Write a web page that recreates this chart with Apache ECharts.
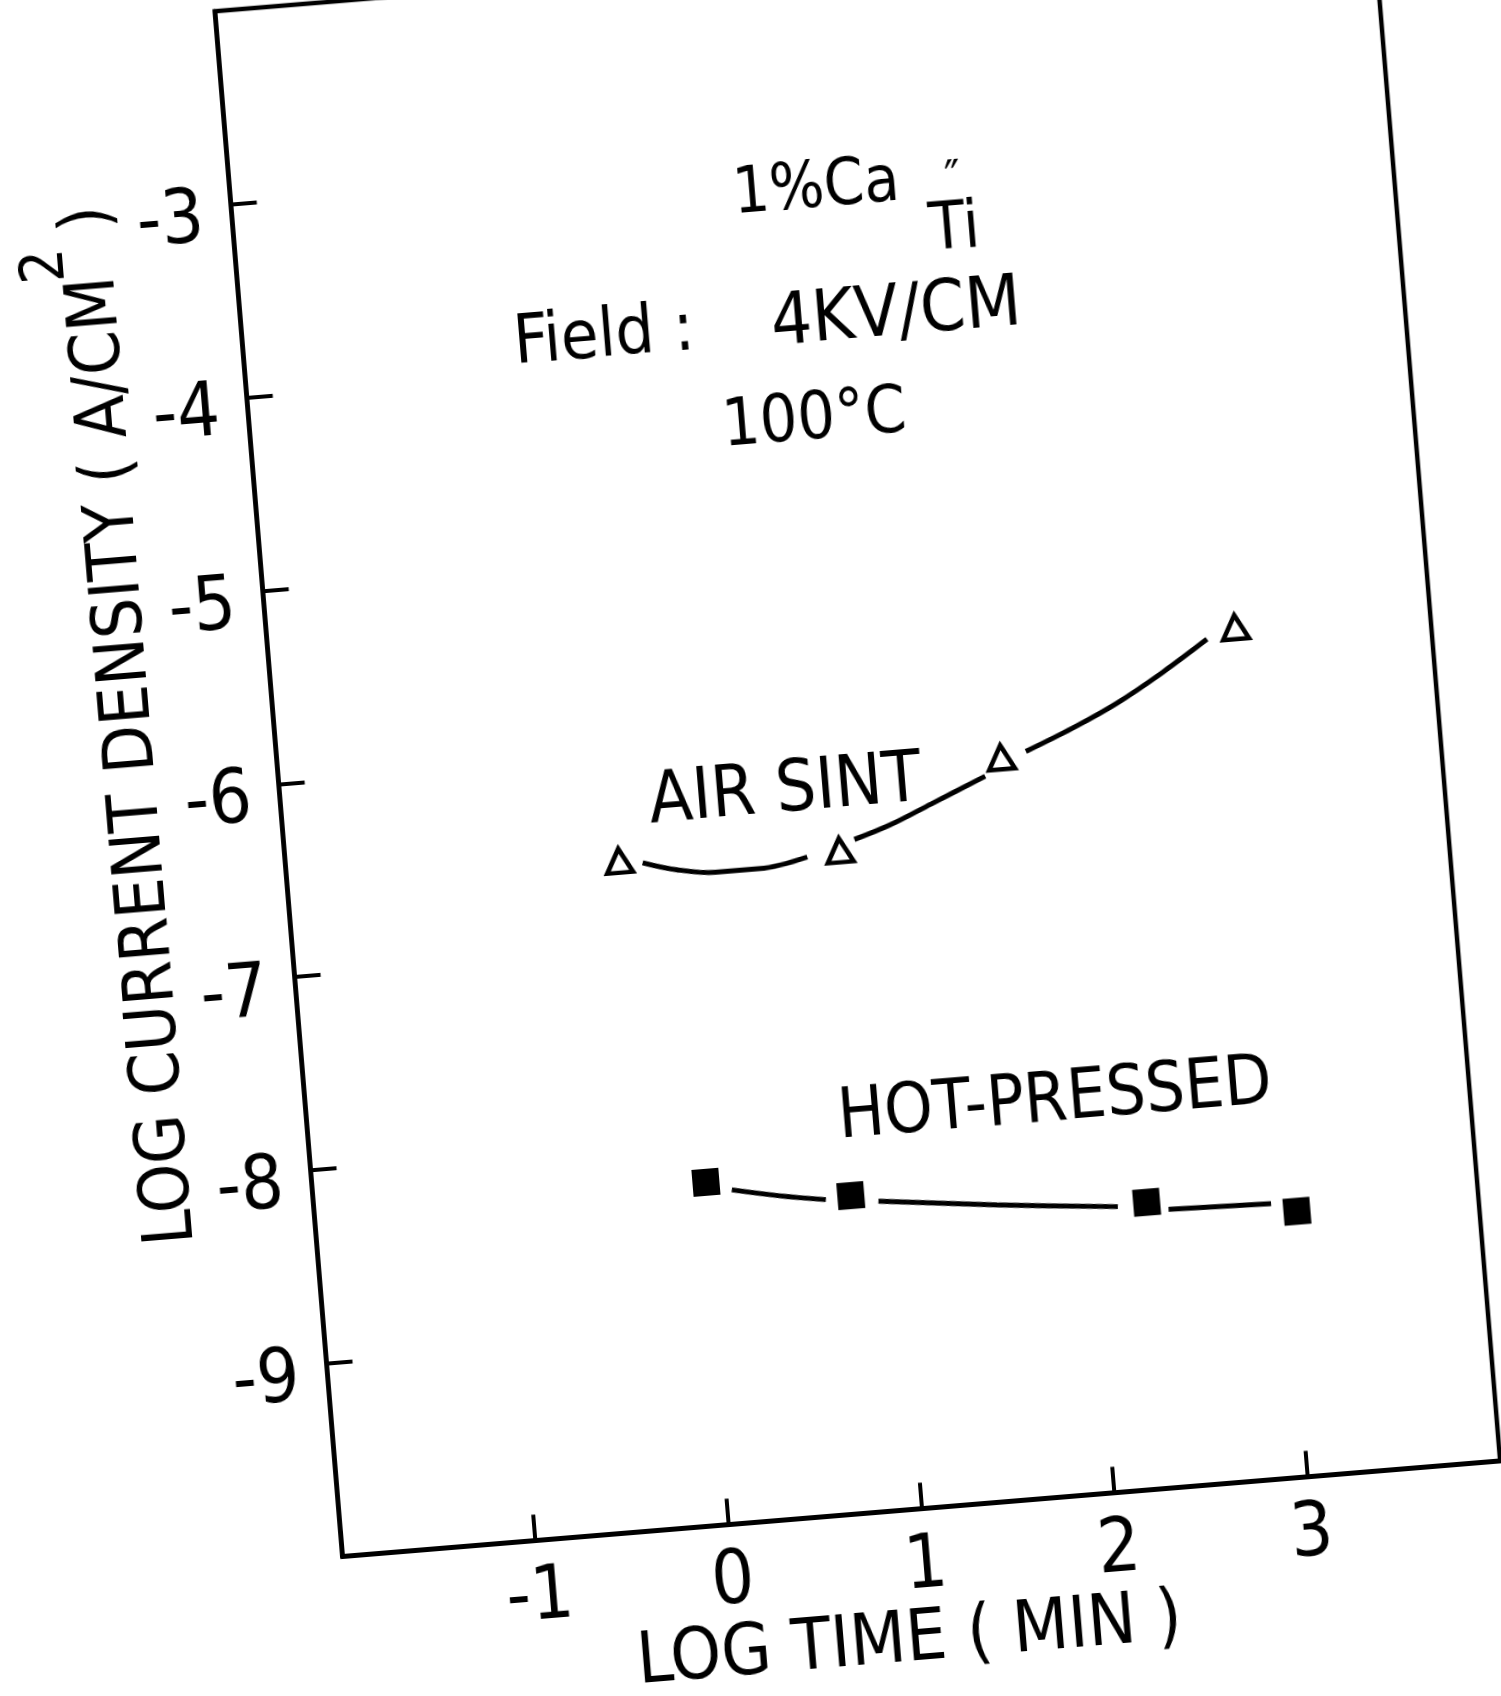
<!DOCTYPE html>
<html>
<head>
<meta charset="utf-8">
<script src="https://cdn.jsdelivr.net/npm/echarts@6/dist/echarts.min.js"></script>
<style>
html,body{margin:0;padding:0;background:#fff;overflow:hidden;width:1501px;height:1696px;}
#chart{position:absolute;left:0;top:0;width:1620px;height:1820px;transform-origin:342.5px 1556.5px;transform:rotate(-4.72deg);}
</style>
</head>
<body>
<div id="chart"></div>
<script>
// ---- data ----
const xTickLabels = ['-1', '0', '1', '2', '3'];
const yTickLabels = ['-9', '-8', '-7', '-6', '-5', '-4', '-3'];

const airSintX = [-0.28, 0.86, 1.73, 2.99];
const airSintY = [-6.54, -6.58, -6.17, -5.60];

const hotPressedX = [0.03, 0.77, 2.29, 3.06];
const hotPressedY = [-8.23, -8.36, -8.52, -8.63];

// hand-drawn fit curves (null = gap in the drawn line)
const airFitX = [-0.16, 0.01, 0.21, 0.44, 0.69, null, 0.94, 1.13, 1.35, 1.64, null, 1.86, 2.11, 2.35, 2.60, 2.84];
const airFitY = [-6.56, -6.61, -6.64, -6.64, -6.60, null, -6.53, -6.47, -6.38, -6.26, null, -6.15, -6.05, -5.94, -5.80, -5.65];

const hotFitX = [0.16, 0.40, 0.64, null, 0.91, 1.52, 2.14, null, 2.40, 2.93];
const hotFitY = [-8.28, -8.33, -8.37, null, -8.40, -8.47, -8.53, null, -8.565, -8.58];

// ---- chart ----
const FONT = '"DejaVu Sans Condensed", "Liberation Sans Narrow", "DejaVu Sans", sans-serif';
const NUMFONT = '"Liberation Sans Narrow", "DejaVu Sans Condensed", "DejaVu Sans", sans-serif';

function zip(xs, ys) { return xs.map((x, i) => [x, ys[i]]); }
function segments(xs, ys) {
  const out = []; let cur = [];
  xs.forEach((x, i) => {
    if (x === null) { if (cur.length) out.push(cur); cur = []; }
    else cur.push([x, ys[i]]);
  });
  if (cur.length) out.push(cur);
  return out;
}

const lineStyle = { color: '#000', width: 5, opacity: 1 };
const curveSeries = segments(airFitX, airFitY).concat(segments(hotFitX, hotFitY)).map(seg => ({
  type: 'line', data: seg, smooth: 0.35, symbol: 'none', lineStyle: lineStyle, z: 2, silent: true
}));

const chart = echarts.init(document.getElementById('chart'), null, { renderer: 'canvas' });
chart.setOption({
  animation: false,
  backgroundColor: 'transparent',
  grid: { left: 342.5, top: 6.1, width: 1161.6, height: 1550.4, show: true, borderColor: '#000', borderWidth: 4.5, backgroundColor: 'transparent' },
  xAxis: {
    type: 'value', min: -2, max: 4, interval: 1,
    axisLine: { show: true, onZero: false, lineStyle: { color: '#000', width: 5 } },
    axisTick: { show: true, inside: true, length: 26, lineStyle: { color: '#000', width: 4 } },
    axisLabel: { show: true, color: '#000', fontSize: 75, fontFamily: NUMFONT, margin: 22,
      formatter: v => xTickLabels.includes(String(v)) ? String(v) : '' },
    splitLine: { show: false }
  },
  yAxis: {
    type: 'value', min: -10, max: -2, interval: 1,
    axisLine: { show: true, onZero: false, lineStyle: { color: '#000', width: 4.5 } },
    axisTick: { show: true, inside: true, length: 26, lineStyle: { color: '#000', width: 4 } },
    axisLabel: { show: true, color: '#000', margin: 28,
      formatter: v => yTickLabels.includes(String(v)) ? '{t|' + String(v) + '}' : '',
      rich: { t: { fontSize: 75, fontFamily: NUMFONT, color: '#000', padding: [30, 0, 0, 0] } } },
    splitLine: { show: false }
  },
  series: curveSeries.concat([
    { name: 'AIR SINT', type: 'scatter', data: zip(airSintX, airSintY), symbol: 'triangle', symbolSize: [26, 24],
      itemStyle: { color: '#fff', borderColor: '#000', borderWidth: 4.5, opacity: 1 }, z: 3 },
    { name: 'HOT-PRESSED', type: 'scatter', data: zip(hotPressedX, hotPressedY), symbol: 'rect', symbolSize: [27, 27],
      itemStyle: { color: '#000', opacity: 1 }, z: 3 }
  ])
});

// ---- text annotations, placed in axis coordinates ----
const texts = [
  { text: '1%Ca', at: [1.020, -3.172], fs: 64 },
  { text: '\u2033', at: [1.727, -3.191], fs: 48 },
  { text: 'Ti', at: [1.714, -3.443], fs: 66 },
  { text: 'Field :', at: [-0.136, -3.847], fs: 68 },
  { text: '4KV/CM', at: [1.378, -3.851], fs: 72 },
  { text: '100\u00B0C', at: [0.912, -4.36], fs: 66 },
  { text: 'AIR SINT', at: [0.604, -6.259], fs: 71 },
  { text: 'HOT-PRESSED', at: [1.861, -7.963], fs: 69 },
  { text: 'LOG TIME ( MIN )', at: [0.883, -10.68], fs: 72 },
  { text: 'LOG CURRENT DENSITY ( A/CM', at: [-2.733, -5.82], fs: 70, rot: Math.PI / 2 },
  { text: '2', at: [-2.973, -3.238], fs: 60, rot: Math.PI / 2 },
  { text: ')', at: [-2.731, -3.01], fs: 70, rot: Math.PI / 2 }
];
chart.setOption({
  graphic: texts.map(t => {
    const p = chart.convertToPixel({ gridIndex: 0 }, t.at);
    return {
      type: 'text', x: p[0], y: p[1], rotation: t.rot || 0, z: 10, silent: true,
      style: { text: t.text, fill: '#000', fontSize: t.fs, fontFamily: FONT,
        align: 'center', verticalAlign: 'middle', textAlign: 'center', textVerticalAlign: 'middle' }
    };
  })
});
</script>
</body>
</html>
